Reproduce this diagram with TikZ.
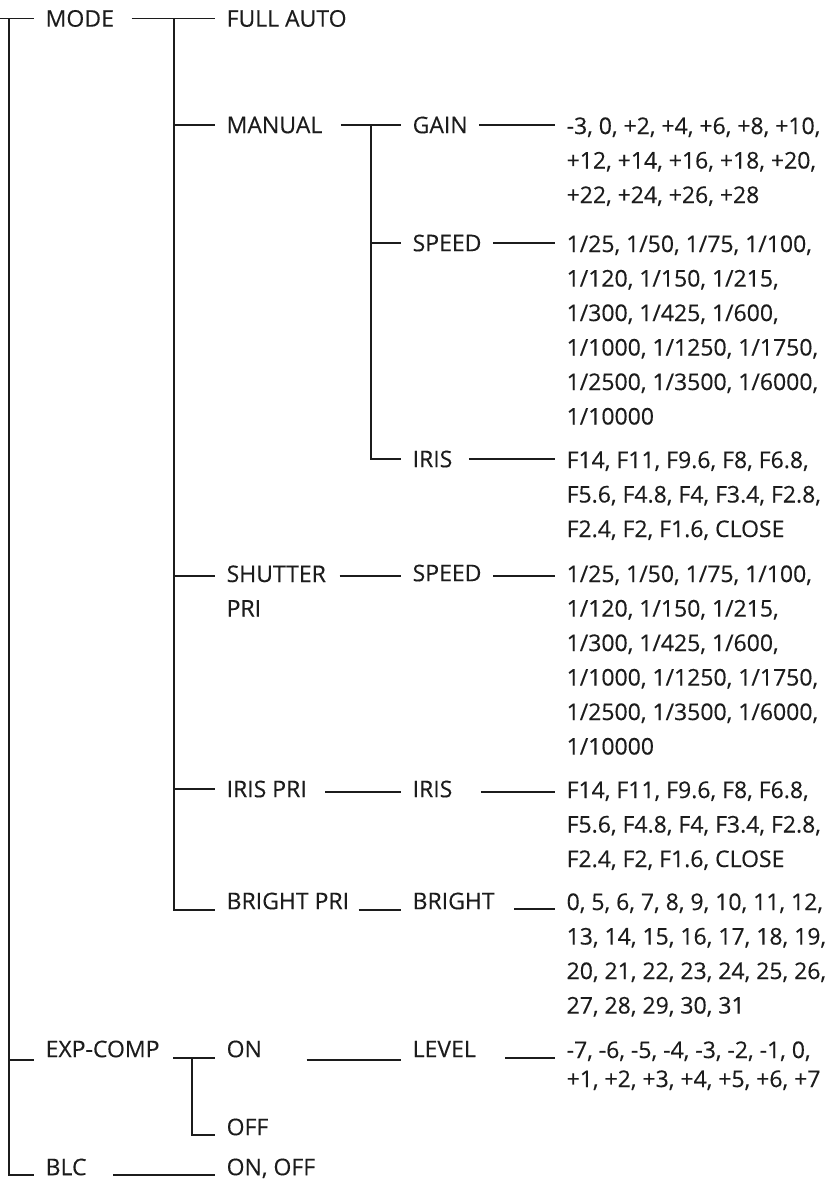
\documentclass[tikz,border=0pt]{standalone}
\usepackage{fontspec}
\setmainfont{Open Sans}[FakeBold=0.3]
\usetikzlibrary{calc}
\definecolor{ink}{HTML}{1C1C1C}
\newcommand{\speedlist}{1/25, 1/50, 1/75, 1/100,\\1/120, 1/150, 1/215,\\1/300, 1/425, 1/600,\\1/1000, 1/1250, 1/1750,\\1/2500, 1/3500, 1/6000,\\1/10000}
\newcommand{\irislist}{F14, F11, F9.6, F8, F6.8,\\F5.6, F4.8, F4, F3.4, F2.8,\\F2.4, F2, F1.6, CLOSE}

\begin{document}
\begin{tikzpicture}[x=1pt,y=-1pt,line width=1.3pt,color=ink,
  every node/.style={font=\fontsize{23}{34.5}\selectfont,inner xsep=11pt,inner ysep=0pt,anchor=west},
  lab/.style={text height=16.4pt,text depth=0pt},
  vals/.style={align=left,anchor=north west}]
    \useasboundingbox (0,0) rectangle (838,1181);
    % menu items
    \node[lab] (mode) at (34,18.5) {MODE};
    \node[lab] (exp) at (34,1049) {EXP-COMP};
    \node[lab] (blc) at (34,1167) {BLC};
    \node[lab] (fullauto) at (215,18.5) {FULL AUTO};
    \node[lab] (manual) at (215,125) {MANUAL};
    \node[vals] (shut) at (215,564.7) {SHUTTER\\PRI};
    \node[lab] (irispri) at (215,789) {IRIS PRI};
    \node[lab] (brightpri) at (215,901) {BRIGHT PRI};
    \node[lab] (on) at (215,1049) {ON};
    \node[lab] (off) at (215,1127) {OFF};
    \node[lab] (onoff) at (215,1167) {ON, OFF};
    \node[lab] (gain) at (401,125) {GAIN};
    \node[lab] (speedm) at (401,243) {SPEED};
    \node[lab] (irism) at (401,459) {IRIS};
    \node[lab] (speeds) at (401,573) {SPEED};
    \node[lab] (irisi) at (401,789) {IRIS};
    \node[lab] (bright) at (401,901) {BRIGHT};
    \node[lab] (level) at (401,1049) {LEVEL};
    % values
    \node[vals] (gainv) at (555,116.7) {-3, 0, +2, +4, +6, +8, +10,\\+12, +14, +16, +18, +20,\\+22, +24, +26, +28};
    \node[vals] (speedmv) at (555,234.7) {\speedlist};
    \node[vals] (irismv) at (555,450.7) {\irislist};
    \node[vals] (speedsv) at (555,564.7) {\speedlist};
    \node[vals] (irisiv) at (555,780.7) {\irislist};
    \node[vals] (brightv) at (555,892.7) {0, 5, 6, 7, 8, 9, 10, 11, 12,\\13, 14, 15, 16, 17, 18, 19,\\20, 21, 22, 23, 24, 25, 26,\\27, 28, 29, 30, 31};
    \node[vals] (levelv) at (555,1040.7) {-7, -6, -5, -4, -3, -2, -1, 0,\\[-5.5pt]+1, +2, +3, +4, +5, +6, +7};
    % tree lines
    \coordinate (root) at (0,18.5);
    \coordinate (t0) at (9,18.5);
    \coordinate (t1) at (174,18.5);
    \coordinate (t2) at (371,125);
    \coordinate (t3) at (192,1058);
    \draw (root) -- (mode.west);
    \draw (t0) |- ([yshift=-8pt]blc.west);
    \draw ([yshift=-11pt]exp.west -| t0) -- ([yshift=-11pt]exp.west);
    \draw ([xshift=6pt]mode.east) -- (fullauto.west);
    \draw (t1) |- ([yshift=-9pt]brightpri.west);
    \draw (t1 |- manual.west) -- (manual.west);
    \draw ([yshift=-3pt]speeds.west -| t1) -- ([yshift=-3pt]speeds.west -| shut.west);
    \draw (t1 |- irispri.west) -- (irispri.west);
    \draw ([xshift=7pt]manual.east) -- (gain.west);
    \draw (t2) |- (irism.west);
    \draw (t2 |- speedm.west) -- (speedm.west);
    \draw ([xshift=2pt,yshift=-3pt]speeds.west -| shut.east) -- ([yshift=-3pt]speeds.west);
    \draw ([xshift=7pt,yshift=-3pt]irispri.east) -- ([yshift=-3pt]irisi.west);
    \draw ([xshift=-2pt,yshift=-9pt]brightpri.east) -- ([yshift=-9pt]bright.west);
    \draw ([xshift=2pt,yshift=-9pt]exp.east) -- ([yshift=-9pt]on.west);
    \draw (t3) |- ([yshift=-8pt]off.west);
    \draw ([xshift=33pt,yshift=-11pt]on.east) -- ([yshift=-11pt]level.west);
    \draw ([xshift=15pt,yshift=-8pt]blc.east) -- ([yshift=-8pt]onoff.west);
    % to the values
    \draw (gain.east) -- (gain.east -| gainv.west);
    \draw (speedm.east) -- (speedm.east -| speedmv.west);
    \draw ([xshift=5pt]irism.east) -- (irism.east -| irismv.west);
    \draw ([yshift=-3pt]speeds.east) -- ([yshift=-3pt]speeds.east -| speedsv.west);
    \draw ([xshift=17pt,yshift=-3pt]irisi.east) -- ([yshift=-3pt]irisi.east -| irisiv.west);
    \draw ([xshift=8pt,yshift=-8pt]bright.east) -- ([yshift=-8pt]bright.east -| brightv.west);
    \draw ([xshift=18pt,yshift=-9pt]level.east) -- ([yshift=-9pt]level.east -| levelv.west);
\end{tikzpicture}
\end{document}
